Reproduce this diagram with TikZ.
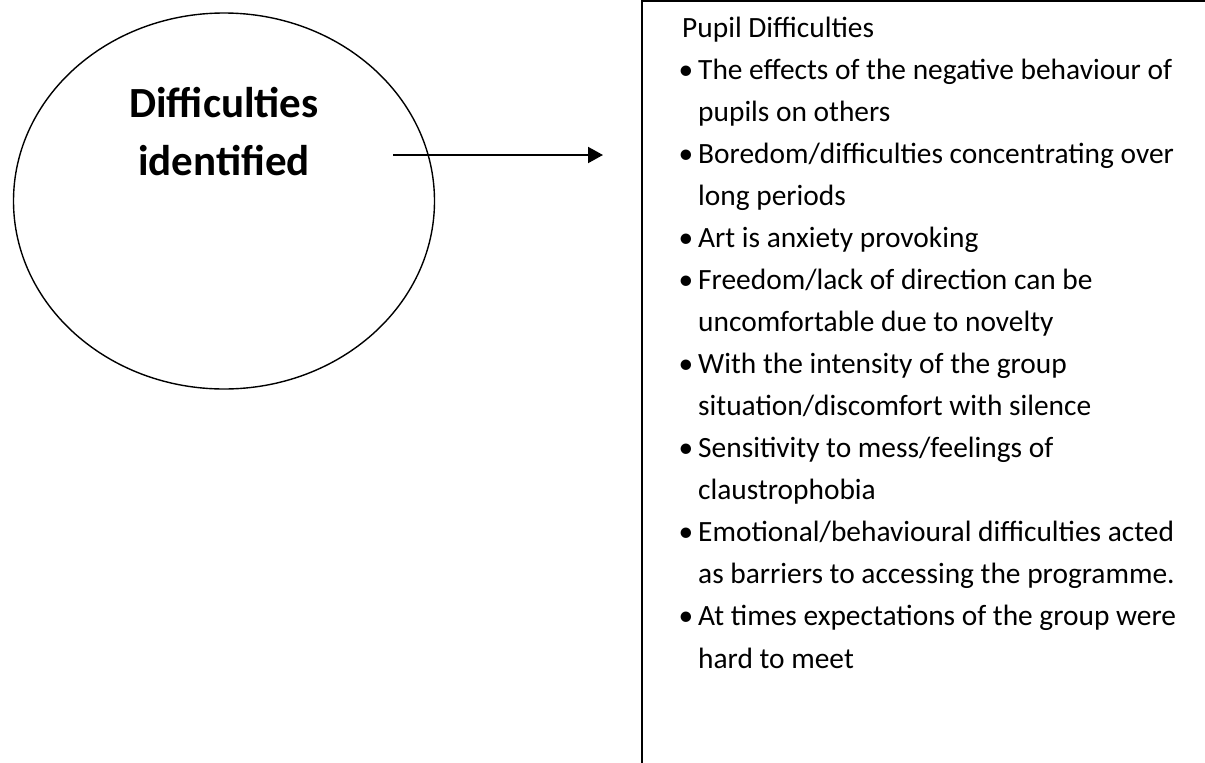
\documentclass[tikz,border=0pt]{standalone}
\usepackage{fontspec}
\setmainfont{Carlito}
\usetikzlibrary{shapes.geometric,arrows.meta}

\newcommand{\bulletmark}{\llap{\textbullet\hspace{5pt}}}

\begin{document}
\begin{tikzpicture}[x=1pt,y=-1pt]
      \useasboundingbox (0,0) rectangle (1205,763);
      \clip (0,0) rectangle (1205,763);

      \node[draw, ellipse, line width=1.4pt, minimum width=421pt, minimum height=376pt, inner sep=0] (bubble) at (224,201) {};
      \node[anchor=base, align=center, inner sep=0, font=\fontsize{43}{58}\selectfont\bfseries] (title) at (224,175) {Difficulties\\identified};

      \coordinate (from) at (393,155);
      \coordinate (to) at (603,155);
      \draw[line width=2pt, -{Triangle[length=15pt,width=16pt]}] (from) -- (to);

      \draw[line width=2pt] (642,1) rectangle (1230,790);
      \foreach \x/\txt [count=\i from 0] in {
            682/{Pupil Difficulties},
            698/{\bulletmark The effects of the negative behaviour of},
            698/{pupils on others},
            698/{\bulletmark Boredom/difficulties concentrating over},
            698/{long periods},
            698/{\bulletmark Art is anxiety provoking},
            698/{\bulletmark Freedom/lack of direction can be},
            698/{uncomfortable due to novelty},
            698/{\bulletmark With the intensity of the group},
            698/{situation/discomfort with silence},
            698/{\bulletmark Sensitivity to mess/feelings of},
            698/{claustrophobia},
            698/{\bulletmark Emotional/behavioural difficulties acted},
            698/{as barriers to accessing the programme.},
            698/{\bulletmark At times expectations of the group were},
            698/{hard to meet}}
        \node[anchor=base west, inner sep=0, font=\fontsize{29.4}{35}\selectfont] (line\i) at (\x, 37+42.07*\i) {\txt};
\end{tikzpicture}
\end{document}
